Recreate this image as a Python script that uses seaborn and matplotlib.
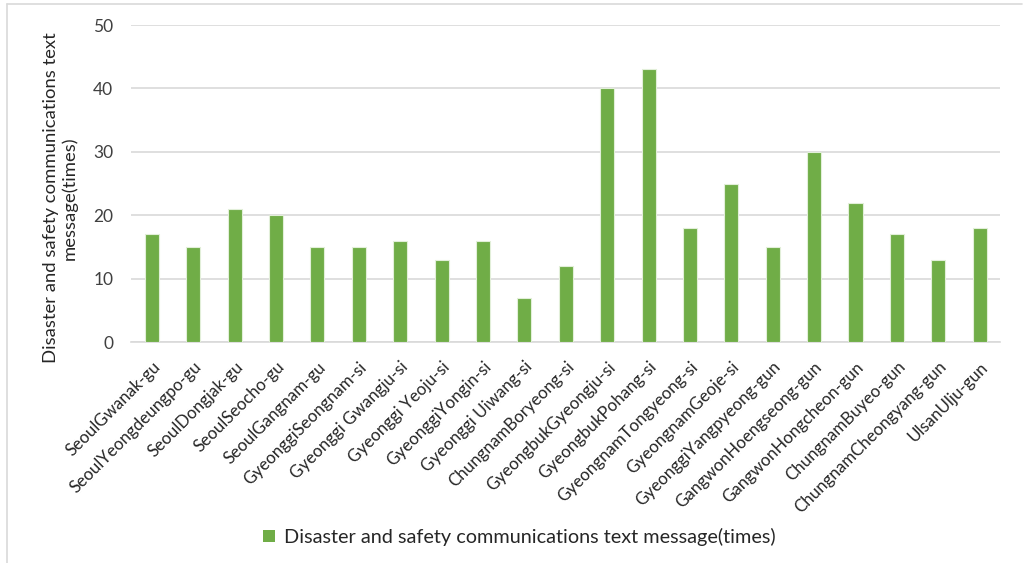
import matplotlib
matplotlib.use("Agg")
import matplotlib.pyplot as plt
from matplotlib.lines import Line2D
import seaborn as sns
import pandas as pd

regions = [
    "SeoulGwanak-gu", "SeoulYeongdeungpo-gu", "SeoulDongjak-gu", "SeoulSeocho-gu",
    "SeoulGangnam-gu", "GyeonggiSeongnam-si", "Gyeonggi Gwangju-si", "Gyeonggi Yeoju-si",
    "GyeonggiYongin-si", "Gyeonggi Uiwang-si", "ChungnamBoryeong-si", "GyeongbukGyeongju-si",
    "GyeongbukPohang-si", "GyeongnamTongyeong-si", "GyeongnamGeoje-si",
    "GyeonggiYangpyeong-gun", "GangwonHoengseong-gun", "GangwonHongcheon-gun",
    "ChungnamBuyeo-gun", "ChungnamCheongyang-gun", "UlsanUlju-gun",
]
messages = [17, 15, 21, 20, 15, 15, 16, 13, 16, 7, 12, 40, 43, 18, 25, 15, 30, 22, 17, 13, 18]
series_name = "Disaster and safety communications text message(times)"
y_ticks = [0, 10, 20, 30, 40, 50]

df = pd.DataFrame({"region": regions, "count": messages})

sns.set_theme(style="white")
plt.rcParams["font.family"] = ["Lato", "DejaVu Sans"]

bar_color = "#70AD47"
text_color = "#404040"

fig = plt.figure(figsize=(10.25, 5.63), dpi=100)
ax = fig.add_axes([0.128, 0.3925, 0.848, 0.563])

sns.barplot(data=df, x="region", y="count", color=bar_color, saturation=1,
            width=0.34, edgecolor="#E2EFD9", linewidth=0.8, ax=ax, zorder=3)

ax.set_ylim(0, 50)
ax.set_yticks(y_ticks)
ax.set_xlim(-0.5, len(regions) - 0.5)
ax.yaxis.grid(True, color="#D9D9D9", linewidth=1.2, zorder=0)
ax.xaxis.grid(False)
for side in ["top", "right", "left"]:
    ax.spines[side].set_visible(False)
ax.spines["bottom"].set_color("#D9D9D9")
ax.spines["bottom"].set_linewidth(1.2)
ax.tick_params(axis="both", length=0)
ax.tick_params(axis="y", labelsize=12.5, labelcolor=text_color, pad=13)
ax.tick_params(axis="x", labelsize=12.2, labelcolor="#262626", pad=12)
plt.setp(ax.get_xticklabels(), rotation=45, ha="right", rotation_mode="anchor")

ax.set_xlabel("")
ax.set_ylabel("Disaster and safety communications text\nmessage(times)",
              fontsize=13.3, color="#262626", linespacing=1.2)
ax.yaxis.set_label_coords(-0.061, 0.455)

handle = plt.Rectangle((0, 0), 1, 1, facecolor=bar_color, edgecolor="none")
fig.legend([handle], [series_name], loc="center", bbox_to_anchor=(0.507, 0.046),
           frameon=False, fontsize=14.3, handlelength=0.6, handleheight=0.6,
           handletextpad=0.45, labelcolor="#262626")

# chart frame edges
fig.add_artist(Line2D([0.0065, 0.0065], [0.0, 0.993], color="#D9D9D9", lw=1.2,
                      transform=fig.transFigure))
fig.add_artist(Line2D([0.0065, 0.997], [0.993, 0.993], color="#D9D9D9", lw=1.2,
                      transform=fig.transFigure))

fig.savefig("out.png", dpi=100, facecolor="white")
